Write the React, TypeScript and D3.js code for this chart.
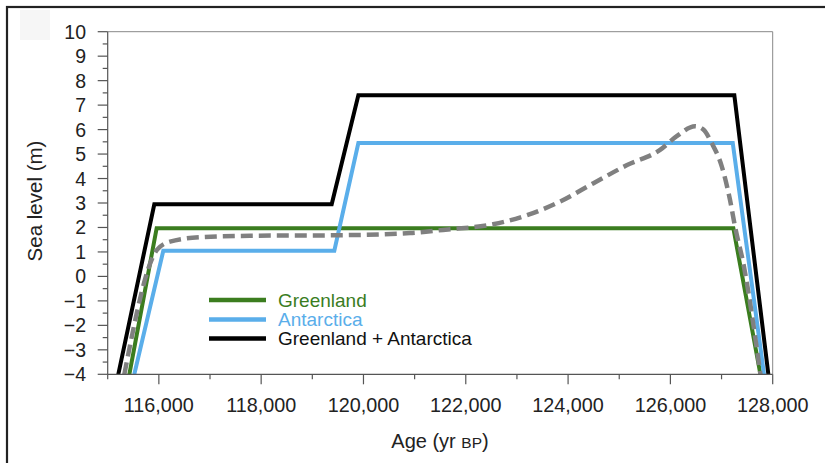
import React from "react";
import * as d3 from "d3";

const W = 825;
const H = 463;

const xTickValues = [116000, 118000, 120000, 122000, 124000, 126000, 128000];
const xMinorTicks = [115000, 117000, 119000, 121000, 123000, 125000, 127000];
const yTickValues = [-4, -3, -2, -1, 0, 1, 2, 3, 4, 5, 6, 7, 8, 9, 10];
const yMinorTicks = [-3.5, -2.5, -1.5, -0.5, 0.5, 1.5, 2.5, 3.5, 4.5, 5.5, 6.5, 7.5, 8.5, 9.5];

const greenlandAge = [115423, 115957, 127231, 127760];
const greenlandVal = [-4, 1.97, 1.97, -4];

const antarcticaAge = [115520, 116087, 119430, 119900, 127219, 127830];
const antarcticaVal = [-4, 1.05, 1.05, 5.45, 5.45, -4];

const combinedAge = [115207, 115911, 119379, 119900, 127250, 127915];
const combinedVal = [-4, 2.95, 2.95, 7.4, 7.4, -4];

const modelAge = [115325, 115958, 116218, 116805, 117782, 119405, 120910, 121555, 122533, 123197, 123843, 124488, 125153, 125798, 126124, 126482, 126644, 126808, 127004, 127166, 127264, 127425, 127760];
const modelVal = [-4, 1.07, 1.42, 1.6, 1.66, 1.68, 1.77, 1.9, 2.13, 2.5, 3.06, 3.8, 4.55, 5.17, 5.73, 6.14, 6.0, 5.45, 4.5, 3.12, 2.03, 0.54, -4];

const legendLabels = ["Greenland", "Antarctica", "Greenland + Antarctica"];
const legendColors = ["#3b7d1f", "#5aaeea", "#000000"];
const legendTextColors = ["#3b7d1f", "#5aaeea", "#111111"];

const FONT = "'Liberation Sans', Arial, Helvetica, sans-serif";

export default function App() {
  const left = 107.7, right = 772.7, top = 31.7, bottom = 374.3;
  const x = d3.scaleLinear().domain([115000, 128000]).range([left, right]);
  const y = d3.scaleLinear().domain([-4, 10]).range([bottom, top]);

  const toPts = (a: number[], v: number[]) => a.map((d, i) => [d, v[i]] as [number, number]);
  const lin = d3.line<[number, number]>().x(d => x(d[0])).y(d => y(d[1]));
  const smooth = d3.line<[number, number]>().x(d => x(d[0])).y(d => y(d[1])).curve(d3.curveMonotoneX);

  const axisColor = "#555";
  const legY = [300, 319.5, 338.5];

  return (
    <svg width={W} height={H} style={{ position: "absolute", left: 0, top: 0, background: "#fff" }} fontFamily={FONT}>
      <rect x={0} y={0} width={W} height={H} fill="#fff" />
      <rect x={20} y={10} width={30} height={30} fill="#f6f6f6" />
      <rect x={7} y={7} width={840} height={480} fill="none" stroke="#222" strokeWidth={2.2} />
      <defs>
        <clipPath id="plotclip">
          <rect x={left} y={top} width={right - left} height={bottom - top} />
        </clipPath>
      </defs>
      {/* frame top/right */}
      <line x1={left} x2={right} y1={top} y2={top} stroke="#888" strokeWidth={1} />
      <line x1={right} x2={right} y1={top} y2={bottom} stroke="#888" strokeWidth={1} />

      {/* series */}
      <g clipPath="url(#plotclip)" fill="none" strokeLinejoin="miter">
        <path d={lin(toPts(greenlandAge, greenlandVal)) || ""} stroke={legendColors[0]} strokeWidth={4} />
        <path d={lin(toPts(antarcticaAge, antarcticaVal)) || ""} stroke={legendColors[1]} strokeWidth={4} />
        <path d={lin(toPts(combinedAge, combinedVal)) || ""} stroke={legendColors[2]} strokeWidth={4} />
        <path d={smooth(toPts(modelAge, modelVal)) || ""} stroke="#808080" strokeWidth={4.5} strokeDasharray="12,6" />
      </g>

      {/* y axis */}
      <line x1={left} x2={left} y1={top} y2={bottom} stroke={axisColor} strokeWidth={1.2} />
      {yTickValues.map(v => (
        <g key={"yt" + v}>
          <line x1={left - 10} x2={left} y1={y(v)} y2={y(v)} stroke={axisColor} strokeWidth={1.2} />
          <text x={86} y={y(v)} dy="0.36em" textAnchor="end" fontSize={19.5} fill="#222">
            {v < 0 ? "\u2212" + Math.abs(v) : String(v)}
          </text>
        </g>
      ))}
      {yMinorTicks.map(v => (
        <line key={"ym" + v} x1={left - 5} x2={left} y1={y(v)} y2={y(v)} stroke={axisColor} strokeWidth={1.2} />
      ))}

      {/* x axis */}
      <line x1={left} x2={right} y1={bottom} y2={bottom} stroke={axisColor} strokeWidth={1.2} />
      {xTickValues.map(v => (
        <g key={"xt" + v}>
          <line x1={x(v)} x2={x(v)} y1={bottom} y2={bottom + 10} stroke={axisColor} strokeWidth={1.2} />
          <text x={x(v)} y={411.5} textAnchor="middle" fontSize={19.8} fill="#222">
            {d3.format(",")(v)}
          </text>
        </g>
      ))}
      {xMinorTicks.map(v => (
        <line key={"xm" + v} x1={x(v)} x2={x(v)} y1={bottom} y2={bottom + 5} stroke={axisColor} strokeWidth={1.2} />
      ))}

      {/* axis titles */}
      <text x={440} y={448.3} textAnchor="middle" fontSize={20} fill="#222">
        Age (yr <tspan fontSize={15.5}>BP</tspan>)
      </text>
      <text transform={`translate(41.7, 201) rotate(-90)`} textAnchor="middle" fontSize={20.5} fill="#222">
        Sea level (m)
      </text>

      {/* legend */}
      {legendLabels.map((lab, i) => (
        <g key={lab}>
          <line x1={209} x2={266} y1={legY[i]} y2={legY[i]} stroke={legendColors[i]} strokeWidth={4.5} />
          <text x={278} y={legY[i]} dy="0.36em" fontSize={19} fill={legendTextColors[i]}>{lab}</text>
        </g>
      ))}
    </svg>
  );
}
